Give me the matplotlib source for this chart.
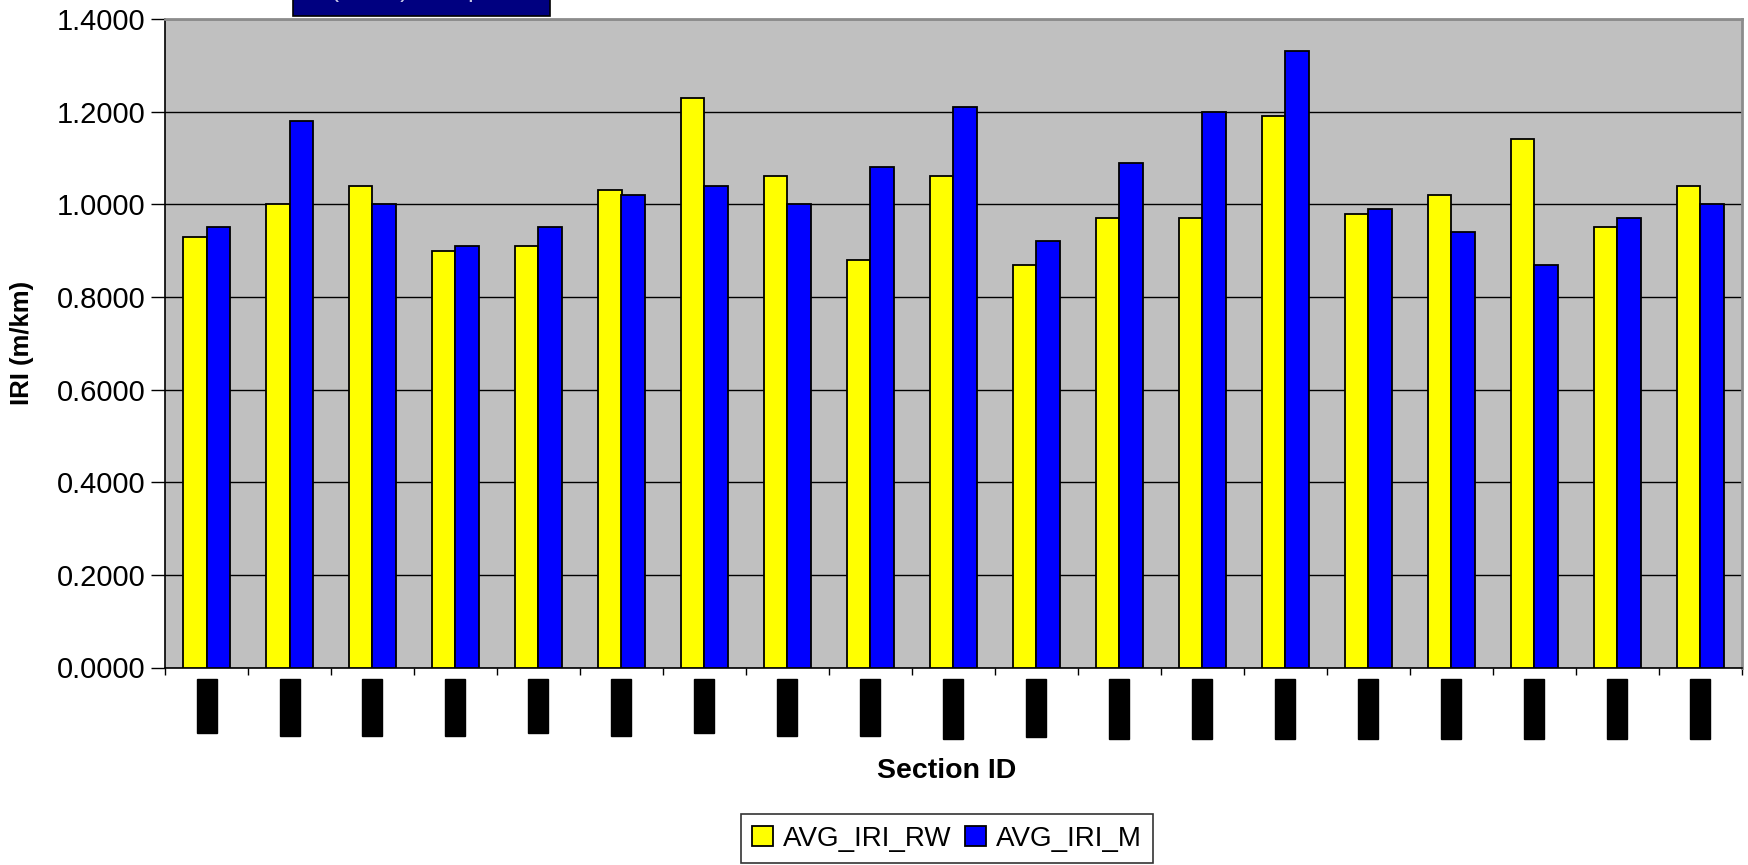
import numpy as np
import matplotlib
matplotlib.use("Agg")
import matplotlib.pyplot as plt
from matplotlib.patches import Rectangle

plt.rcParams['font.family'] = ['Liberation Sans', 'DejaVu Sans']

# section identifiers and roughness values (m/km)
sections = ["01-0101", "0101021", "0101031", "0101041", "01-0105",
            "0101061", "01-0107", "0101081", "0101091", "01-01101",
            "01-01111", "01-01121", "01-01131", "01-01141", "01-01151",
            "01-01161", "01-01171", "01-01181", "01-01191"]
avg_iri_rw = [0.93, 1.00, 1.04, 0.90, 0.91, 1.03, 1.23, 1.06, 0.88, 1.06,
              0.87, 0.97, 0.97, 1.19, 0.98, 1.02, 1.14, 0.95, 1.04]
avg_iri_m = [0.95, 1.18, 1.00, 0.91, 0.95, 1.02, 1.04, 1.00, 1.08, 1.21,
             0.92, 1.09, 1.20, 1.33, 0.99, 0.94, 0.87, 0.97, 1.00]
yticks = [0.0, 0.2, 0.4, 0.6, 0.8, 1.0, 1.2, 1.4]

W, H = 1749, 865
fig = plt.figure(figsize=(W / 100, H / 100), dpi=100)
ax = fig.add_axes([165 / W, 1 - 667.5 / H, (1742 - 165) / W, (667.5 - 19) / H])
ax.set_facecolor('#C0C0C0')

x = np.arange(len(sections))
bw = 0.28
ax.bar(x - bw / 2, avg_iri_rw, bw, color='#FFFF00', edgecolor='black',
       linewidth=1.3, label='AVG_IRI_RW', zorder=3)
ax.bar(x + bw / 2, avg_iri_m, bw, color='#0000FF', edgecolor='black',
       linewidth=1.3, label='AVG_IRI_M', zorder=3)

ax.set_xlim(-0.5, len(sections) - 0.5)
ax.set_ylim(0, 1.4)
ax.set_yticks(yticks)
ax.set_yticklabels(['%.4f' % v for v in yticks], fontsize=21)
ax.grid(axis='y', color='black', linewidth=1.0, zorder=1)
ax.tick_params(axis='y', direction='out', length=10, width=1, pad=4)

# category boundaries carry the tick marks, centres carry the labels
ax.set_xticks(np.arange(len(sections) + 1) - 0.5, minor=True)
ax.set_xticks(x)
ax.set_xticklabels(sections, rotation=90, fontsize=9, color='black', va='top')
ax.tick_params(axis='x', which='major', length=0, pad=11.2)
ax.tick_params(axis='x', which='minor', direction='out', length=5, width=1)
for lbl in ax.get_xticklabels():
    lbl.set_bbox(dict(facecolor='black', edgecolor='black', pad=2.9))

for side in ('left', 'bottom'):
    ax.spines[side].set_color('black')
    ax.spines[side].set_linewidth(1.2)
for side in ('top', 'right'):
    ax.spines[side].set_color('#8C8C8C')
    ax.spines[side].set_linewidth(2)

fig.text(22 / W, 1 - 343 / H, 'IRI (m/km)', rotation=90, ha='center',
         va='center', fontsize=18.5, fontweight='bold')
fig.text(947 / W, 1 - 771 / H, 'Section ID', ha='center', va='center',
         fontsize=20.5, fontweight='bold')

leg = ax.legend(loc='center', bbox_to_anchor=(947 / W, 1 - 838.5 / H),
                bbox_transform=fig.transFigure, ncol=2, fontsize=20,
                frameon=True, fancybox=False, edgecolor='black',
                handlelength=0.75, handleheight=0.75, handletextpad=0.35,
                columnspacing=0.5, borderpad=0.4, borderaxespad=0)
leg.get_frame().set_linewidth(1.2)

# chart title box, mostly above the top edge
fig.patches.append(Rectangle((293 / W, 1 - 16 / H), (550 - 293) / W, 30 / H,
                             transform=fig.transFigure, facecolor='#000080',
                             edgecolor='black', linewidth=1.2))
fig.text(421 / W, 1 + 3 / H, 'IRI (m/km) Comparison', ha='center',
         va='baseline', fontsize=18, color='#C8C8E8')

fig.savefig('out.png', dpi=100)
